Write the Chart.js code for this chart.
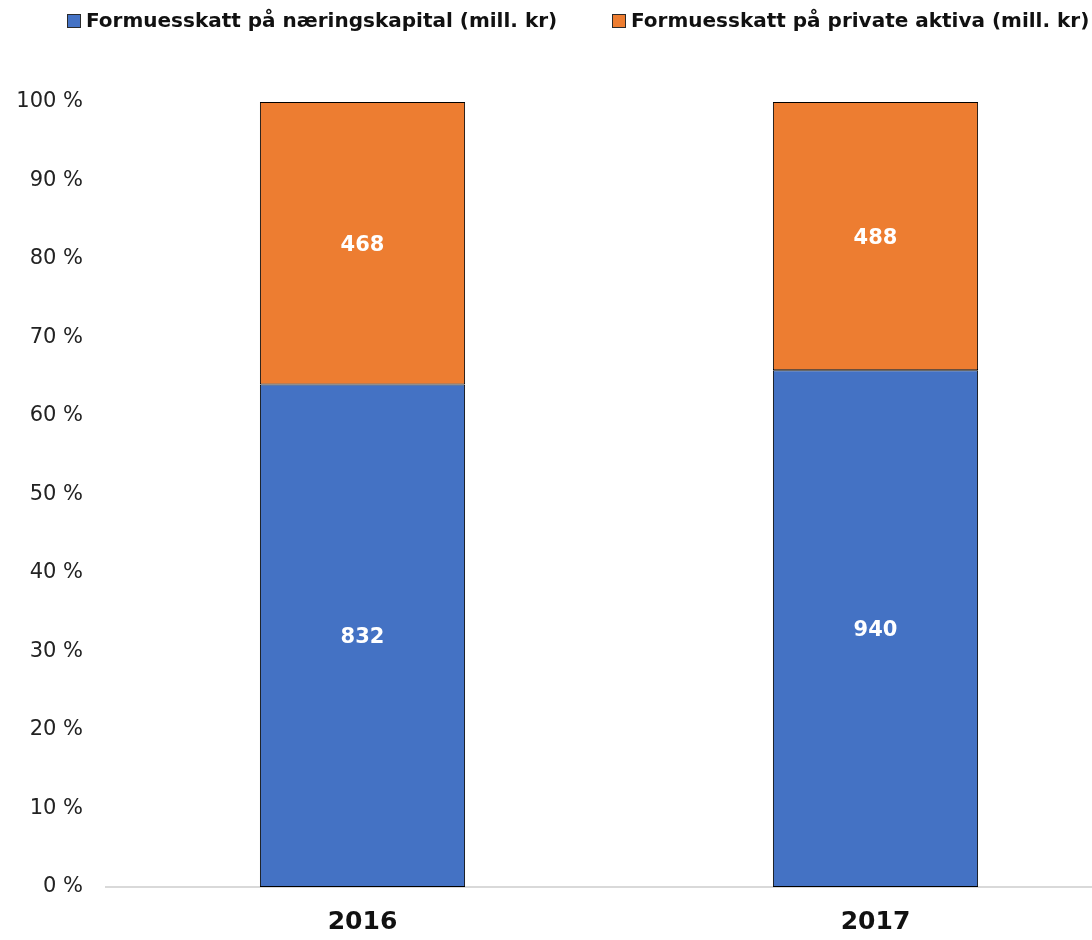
<!DOCTYPE html>
<html>
<head>
    <title>Formuesskatt 2016-2017</title>
    <script src="https://cdn.jsdelivr.net/npm/chart.js"></script>
    <style>
        body { margin: 0; background: #fff; }
        #wrap { width: 1092px; height: 940px; }
    </style>
</head>
<body>
    <div id="wrap"><canvas id="formueChart" width="1092" height="940"></canvas></div>
    <script>
        const years = ["2016", "2017"];
        const naeringskapital = [832, 940];
        const privateAktiva = [468, 488];
        const seriesNames = ["Formuesskatt på næringskapital (mill. kr)", "Formuesskatt på private aktiva (mill. kr)"];
        const yTicks = [0, 10, 20, 30, 40, 50, 60, 70, 80, 90, 100];

        const font = "'DejaVu Sans', 'Noto Sans', sans-serif";

        // 100 % stacked: share of each year's total
        const totals = years.map((y, i) => naeringskapital[i] + privateAktiva[i]);
        const pct = arr => arr.map((v, i) => v / totals[i] * 100);
        const rawValues = [naeringskapital, privateAktiva];

        // white value labels inside each segment
        const valueLabels = {
            id: "valueLabels",
            afterDatasetsDraw(chart) {
                const ctx = chart.ctx;
                ctx.save();
                ctx.fillStyle = "#ffffff";
                ctx.font = "bold 21px " + font;
                ctx.textAlign = "center";
                ctx.textBaseline = "middle";
                chart.data.datasets.forEach((ds, di) => {
                    chart.getDatasetMeta(di).data.forEach((bar, i) => {
                        const mid = (bar.y + bar.base) / 2;
                        ctx.fillText(rawValues[di][i], bar.x, mid + 2);
                    });
                });
                ctx.restore();
            }
        };

        // the plot in the original runs past the right edge of the picture
        const widePlot = {
            id: "widePlot",
            afterLayout(chart) {
                const x = chart.scales.x;
                x.right = 1132;
                x.width = x.right - x.left;
                x.configure();
            }
        };

        // simple legend drawn by hand, wider spacing than the built-in one
        const topLegend = {
            id: "topLegend",
            afterDraw(chart) {
                const ctx = chart.ctx;
                const boxX = [67, 612];
                ctx.save();
                ctx.font = "bold 20px " + font;
                ctx.textBaseline = "middle";
                ctx.textAlign = "left";
                chart.data.datasets.forEach((ds, i) => {
                    ctx.fillStyle = ds.backgroundColor;
                    ctx.fillRect(boxX[i], 14, 14, 14);
                    ctx.strokeStyle = "#2b2b2b";
                    ctx.lineWidth = 1;
                    ctx.strokeRect(boxX[i] + 0.5, 14.5, 13, 13);
                    ctx.fillStyle = "#111";
                    ctx.fillText(ds.label, boxX[i] + 19, 22);
                });
                ctx.restore();
            }
        };

        new Chart(document.getElementById("formueChart"), {
            type: "bar",
            data: {
                labels: years,
                datasets: [{
                    label: seriesNames[0],
                    data: pct(naeringskapital),
                    backgroundColor: "#4472c4",
                    borderColor: "#000000",
                    borderWidth: 1,
                    borderSkipped: false
                }, {
                    label: seriesNames[1],
                    data: pct(privateAktiva),
                    backgroundColor: "#ed7d31",
                    borderColor: "#000000",
                    borderWidth: 1,
                    borderSkipped: false
                }]
            },
            options: {
                responsive: false,
                animation: false,
                layout: { padding: { left: 0, right: 0, top: 102, bottom: 0 } },
                datasets: { bar: { categoryPercentage: 1, barPercentage: 0.4 } },
                plugins: {
                    tooltip: { enabled: false },
                    legend: { display: false }
                },
                scales: {
                    x: {
                        stacked: true,
                        grid: { display: false, drawTicks: false },
                        border: { display: true, color: "#d9d9d9", width: 2 },
                        ticks: {
                            color: "#111",
                            font: { family: font, size: 25, weight: "bold" },
                            padding: 20
                        },
                        afterFit(scale) { scale.height = 53; }
                    },
                    y: {
                        stacked: true,
                        min: 0,
                        max: 100,
                        grid: { display: false, drawTicks: false },
                        border: { display: false },
                        afterBuildTicks(scale) {
                            scale.ticks = yTicks.map(v => ({ value: v }));
                        },
                        ticks: {
                            color: "#222",
                            font: { family: font, size: 21 },
                            padding: 23,
                            callback: v => v + " %"
                        },
                        afterFit(scale) { scale.width = 106; }
                    }
                }
            },
            plugins: [valueLabels, widePlot, topLegend]
        });
    </script>
</body>
</html>
